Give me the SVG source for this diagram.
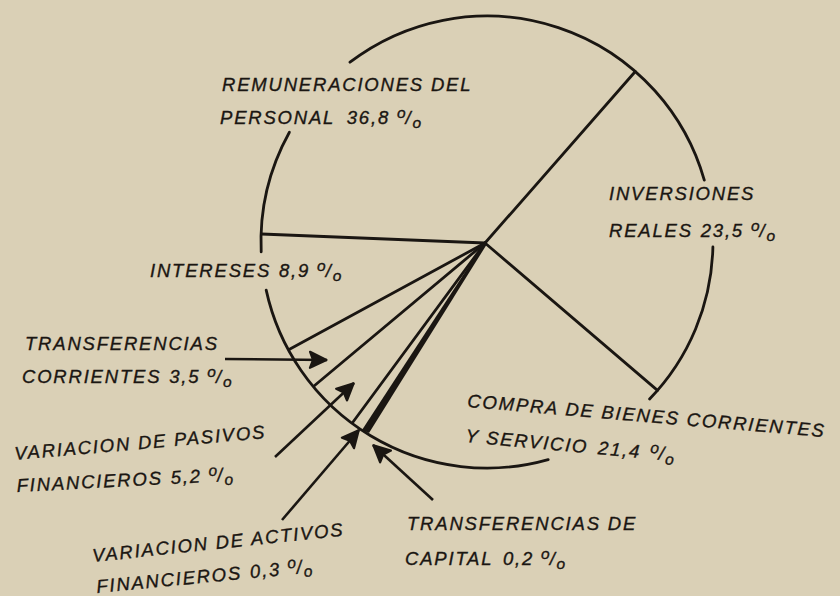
<svg xmlns="http://www.w3.org/2000/svg" width="840" height="596" viewBox="0 0 840 596">
<defs>
<style>
.bg{fill:#dad0b6}
.arc{fill:none;stroke:#1a1612;stroke-width:2.8;stroke-linecap:round}
.rad{fill:none;stroke:#1a1612;stroke-width:2.8;stroke-linecap:round}
.arr{fill:none;stroke:#1a1612;stroke-width:2.6;marker-end:url(#ah)}
.lbl{font-family:"Liberation Sans","Noto Sans",sans-serif;font-style:italic;font-size:18.5px;letter-spacing:1.8px;fill:#1a1612;stroke:#1a1612;stroke-width:0.35}
.pc{font-size:15.5px;letter-spacing:0}
</style>
<marker id="ah" viewBox="0 0 20 20" refX="19" refY="10" markerWidth="20" markerHeight="20" markerUnits="userSpaceOnUse" orient="auto">
<path d="M2,2 L18.5,10 L2,18 L5,10 Z" fill="#1a1612" stroke="#1a1612" stroke-width="2.2" stroke-linejoin="round"/>
</marker>
</defs>
<rect class="bg" x="0" y="0" width="840" height="596"/>

<g id="pie">
<path class="arc" d="M350,62.2 A226,226 0 0 1 704.3,180.1"/>
<path class="arc" d="M712.9,247 A226,226 0 0 1 649.6,399"/>
<path class="arc" d="M548.2,459.6 A226,226 0 0 1 266.2,290.1"/>
<path class="arc" d="M261.2,251.9 A226,226 0 0 1 289.4,132.3"/>
</g>

<g id="connectors">
<path class="rad" d="M485,243 L635.3,71.5"/>
<path class="rad" d="M485,243 L657.5,390.4"/>
<path class="rad" d="M485,243 L261.5,234"/>
<path class="rad" d="M485,243 L290,349"/>
<path class="rad" d="M485,243 L314,386"/>
<path class="rad" d="M485,243 L353,422"/>
<polygon points="484,243 487,244 369,433 362,430" fill="#1a1612"/>
<path class="arr" d="M225,359 L327,360"/>
<path class="arr" d="M275,457 L354,383"/>
<path class="arr" d="M282,520 L359,430"/>
<path class="arr" d="M433,500 L373,445"/>
</g>

<g id="remuneraciones">
<text class="lbl" x="222" y="91">REMUNERACIONES DEL</text>
<text class="lbl" x="220" y="124">PERSONAL <tspan dx="5">36,8 </tspan><tspan class="pc" dy="-6">o</tspan><tspan dy="6">/</tspan><tspan class="pc" dy="4">o</tspan></text>
</g>
<g id="inversiones">
<text class="lbl" x="609" y="200">INVERSIONES</text>
<text class="lbl" x="609" y="237">REALES <tspan dx="1">23,5 </tspan><tspan class="pc" dy="-6">o</tspan><tspan dy="6">/</tspan><tspan class="pc" dy="4">o</tspan></text>
</g>
<g id="intereses">
<text class="lbl" x="150" y="277">INTERESES <tspan dx="1">8,9 </tspan><tspan class="pc" dy="-6">o</tspan><tspan dy="6">/</tspan><tspan class="pc" dy="4">o</tspan></text>
</g>
<g id="transferencias-corrientes">
<text class="lbl" x="25" y="350">TRANSFERENCIAS</text>
<text class="lbl" x="22" y="383">CORRIENTES <tspan dx="1">3,5 </tspan><tspan class="pc" dy="-6">o</tspan><tspan dy="6">/</tspan><tspan class="pc" dy="4">o</tspan></text>
</g>
<g id="pasivos">
<text class="lbl" transform="translate(15,460) rotate(-5)">VARIACION DE PASIVOS</text>
<text class="lbl" transform="translate(17,492) rotate(-3)">FINANCIEROS <tspan dx="1">5,2 </tspan><tspan class="pc" dy="-6">o</tspan><tspan dy="6">/</tspan><tspan class="pc" dy="4">o</tspan></text>
</g>
<g id="activos">
<text class="lbl" transform="translate(93,562) rotate(-6)">VARIACION DE ACTIVOS</text>
<text class="lbl" transform="translate(97,593) rotate(-5.5)">FINANCIEROS <tspan dx="1">0,3 </tspan><tspan class="pc" dy="-6">o</tspan><tspan dy="6">/</tspan><tspan class="pc" dy="4">o</tspan></text>
</g>
<g id="capital">
<text class="lbl" x="407" y="530">TRANSFERENCIAS DE</text>
<text class="lbl" x="405" y="565">CAPITAL <tspan dx="3">0,2 </tspan><tspan class="pc" dy="-6">o</tspan><tspan dy="6">/</tspan><tspan class="pc" dy="4">o</tspan></text>
</g>
<g id="compra">
<text class="lbl" transform="translate(467,407) rotate(4.8)">COMPRA DE BIENES CORRIENTES</text>
<text class="lbl" transform="translate(465,442) rotate(5.2)">Y SERVICIO <tspan dx="3">21,4 </tspan><tspan class="pc" dx="2" dy="-6">o</tspan><tspan dy="6">/</tspan><tspan class="pc" dy="4">o</tspan></text>
</g>
</svg>
